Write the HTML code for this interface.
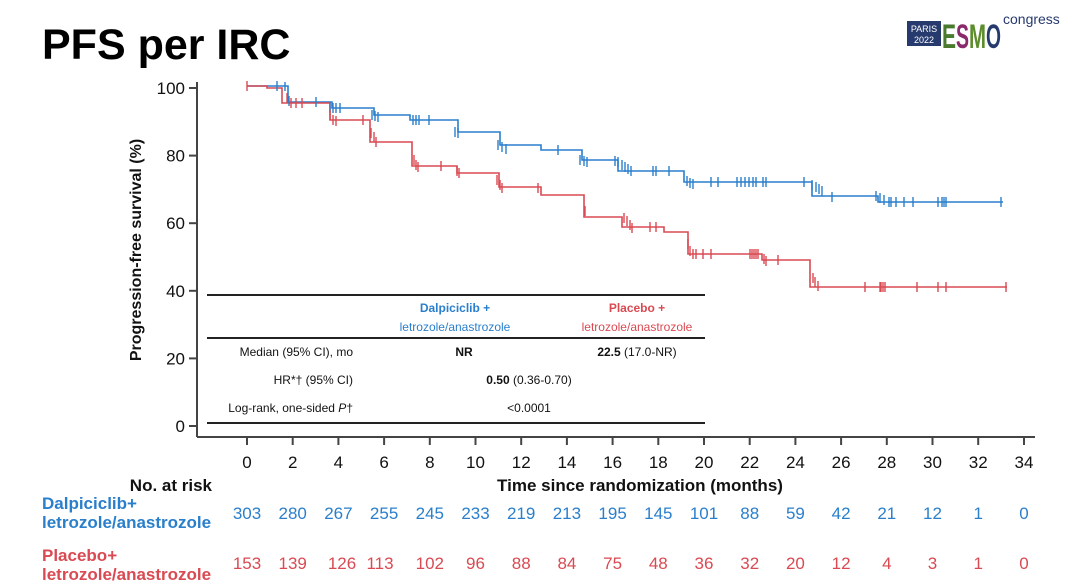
<!DOCTYPE html>
<html><head><meta charset="utf-8"><style>
html,body{margin:0;padding:0;background:#fff}
svg{display:block;font-family:"Liberation Sans",Arial,sans-serif}
</style></head><body>
<svg width="1080" height="586" viewBox="0 0 1080 586" xmlns="http://www.w3.org/2000/svg">
<text x="42" y="59" font-size="43" font-weight="bold" fill="#000">PFS per IRC</text>
<!-- logo -->
<rect x="907" y="21" width="34" height="25" fill="#263a6e"/>
<text x="924" y="32" font-size="9" fill="#fff" text-anchor="middle">PARIS</text>
<text x="924" y="43" font-size="9" fill="#fff" text-anchor="middle">2022</text>
<text x="942" y="48" font-size="34" font-weight="bold" fill="#4a7a2e" textLength="14" lengthAdjust="spacingAndGlyphs">E</text>
<text x="956" y="48" font-size="34" font-weight="bold" fill="#8a2a6a" textLength="13" lengthAdjust="spacingAndGlyphs">S</text>
<text x="969" y="48" font-size="34" font-weight="bold" fill="#5c8c2c" textLength="17" lengthAdjust="spacingAndGlyphs">M</text>
<text x="986" y="48" font-size="34" font-weight="bold" fill="#263a6e" textLength="15" lengthAdjust="spacingAndGlyphs">O</text>
<text x="1003" y="24" font-size="14" fill="#263a6e">congress</text>

<!-- y axis -->
<g stroke="#444" stroke-width="2" fill="none">
<line x1="197" y1="82" x2="197" y2="437"/>
<line x1="197" y1="437" x2="1035" y2="437"/>
<line x1="189" y1="88" x2="197" y2="88"/>
<line x1="189" y1="155.6" x2="197" y2="155.6"/>
<line x1="189" y1="223.2" x2="197" y2="223.2"/>
<line x1="189" y1="290.8" x2="197" y2="290.8"/>
<line x1="189" y1="358.4" x2="197" y2="358.4"/>
<line x1="189" y1="426" x2="197" y2="426"/>
</g>
<g font-size="17" fill="#111" text-anchor="end">
<text x="185" y="94">100</text><text x="185" y="161.6">80</text><text x="185" y="229.2">60</text>
<text x="185" y="296.8">40</text><text x="185" y="364.4">20</text><text x="185" y="432">0</text>
</g>
<text transform="translate(141,250) rotate(-90)" font-size="16" font-weight="bold" text-anchor="middle" fill="#111">Progression-free survival (%)</text>

<!-- x ticks -->
<g stroke="#444" stroke-width="2">
<line x1="247" y1="437" x2="247" y2="445"/><line x1="292.7" y1="437" x2="292.7" y2="445"/><line x1="338.4" y1="437" x2="338.4" y2="445"/><line x1="384.1" y1="437" x2="384.1" y2="445"/><line x1="429.8" y1="437" x2="429.8" y2="445"/><line x1="475.5" y1="437" x2="475.5" y2="445"/><line x1="521.2" y1="437" x2="521.2" y2="445"/><line x1="566.9" y1="437" x2="566.9" y2="445"/><line x1="612.6" y1="437" x2="612.6" y2="445"/><line x1="658.3" y1="437" x2="658.3" y2="445"/><line x1="704" y1="437" x2="704" y2="445"/><line x1="749.7" y1="437" x2="749.7" y2="445"/><line x1="795.4" y1="437" x2="795.4" y2="445"/><line x1="841.1" y1="437" x2="841.1" y2="445"/><line x1="886.8" y1="437" x2="886.8" y2="445"/><line x1="932.5" y1="437" x2="932.5" y2="445"/><line x1="978.2" y1="437" x2="978.2" y2="445"/><line x1="1024" y1="437" x2="1024" y2="445"/>
</g>
<g font-size="17" fill="#111" text-anchor="middle">
<text x="247" y="468">0</text><text x="292.7" y="468">2</text><text x="338.4" y="468">4</text><text x="384.1" y="468">6</text><text x="429.8" y="468">8</text><text x="475.5" y="468">10</text><text x="521.2" y="468">12</text><text x="566.9" y="468">14</text><text x="612.6" y="468">16</text><text x="658.3" y="468">18</text><text x="704" y="468">20</text><text x="749.7" y="468">22</text><text x="795.4" y="468">24</text><text x="841.1" y="468">26</text><text x="886.8" y="468">28</text><text x="932.5" y="468">30</text><text x="978.2" y="468">32</text><text x="1024" y="468">34</text>
</g>
<text x="640" y="491" font-size="17" font-weight="bold" text-anchor="middle" fill="#111">Time since randomization (months)</text>

<!-- curves -->
<path fill="none" stroke="#2a7fcc" stroke-width="1.6" d="M247,86 H288 V102 H332 V108 H374 V115 H410 V120 H458 V132 H500 V145 H541 V150 H582 V160 H618 V171 H684 V182 H812 V196 H878 V202 H1003"/>
<path fill="none" stroke="#d94a52" stroke-width="1.6" d="M247,86 H267 V88 H282 V103 H330 V120 H370 V142 H412 V166 H457 V173 H499 V187 H541 V195 H584 V217 H622 V227 H664 V232 H688 V254 H762 V260 H810 V287 H1007"/>
<g stroke="#2a7fcc" stroke-width="1.4">
<path d="M277,81v10 M285,82v9 M289,96v10 M316,97v10 M330,102v10 M333,103v10 M336,103v10 M340,103v10 M372,110v10 M375,111v10 M378,112v10 M413,115v10 M416,115v10 M419,115v10 M429,115v10 M455,127v10 M458,128v10 M498,140v10 M502,142v10 M506,144v10 M558,145v10 M580,155v10 M584,156v10 M587,157v10 M615,156v10 M618,157v10 M622,160v10 M625,162v10 M628,164v10 M631,166v10 M653,166v10 M656,166v10 M669,166v10 M687,176v10 M690,178v10 M693,179v10 M711,177v10 M718,177v10 M737,177v10 M741,177v10 M745,177v10 M749,177v10 M753,177v10 M756,177v10 M763,177v10 M766,177v10 M804,177v10 M812,180v10 M816,182v10 M819,184v10 M822,186v10 M832,192v10 M876,191v10 M880,193v10 M884,195v10 M889,197v10 M891,197v10 M896,197v10 M904,197v10 M913,197v10 M938,197v10 M942,197v10 M944,197v10 M946,197v10 M1001,197v10"/>
</g>
<g stroke="#d94a52" stroke-width="1.4">
<path d="M247,81v10 M287,93v10 M291,98v10 M296,98v10 M302,98v10 M330,110v10 M333,115v10 M336,116v10 M363,115v10 M371,128v10 M374,132v10 M376,137v10 M414,155v10 M416,160v10 M418,162v10 M441,161v10 M457,166v10 M459,168v10 M497,175v10 M500,180v10 M502,183v10 M538,183v10 M585,206v10 M624,213v10 M627,216v10 M630,220v10 M632,223v10 M650,222v10 M656,222v10 M688,239v10 M690,246v10 M693,249v10 M696,249v10 M703,249v10 M711,249v10 M750,249v10 M752,249v10 M754,249v10 M756,249v10 M758,249v10 M764,254v10 M766,256v10 M778,255v10 M813,273v10 M815,277v10 M818,281v10 M865,282v10 M880,282v10 M881,282v10 M883,282v10 M885,282v10 M917,282v10 M938,282v10 M946,282v10 M1006,282v10"/>
</g>

<!-- embedded table -->
<g stroke="#222" stroke-width="2">
<line x1="207" y1="295" x2="705" y2="295"/>
<line x1="207" y1="338" x2="705" y2="338"/>
<line x1="207" y1="423" x2="705" y2="423"/>
</g>
<g font-size="12" text-anchor="middle">
<text x="455" y="312" fill="#2a7fcc" font-weight="bold">Dalpiciclib +</text>
<text x="455" y="331" fill="#2a7fcc">letrozole/anastrozole</text>
<text x="637" y="312" fill="#d94a52" font-weight="bold">Placebo +</text>
<text x="637" y="331" fill="#d94a52">letrozole/anastrozole</text>
</g>
<g font-size="12" fill="#111">
<text x="353" y="356" text-anchor="end">Median (95% CI), mo</text>
<text x="353" y="384" text-anchor="end">HR*† (95% CI)</text>
<text x="353" y="412" text-anchor="end">Log-rank, one-sided <tspan font-style="italic">P</tspan>†</text>
<text x="464" y="356" text-anchor="middle" font-weight="bold">NR</text>
<text x="637" y="356" text-anchor="middle"><tspan font-weight="bold">22.5</tspan> (17.0-NR)</text>
<text x="529" y="384" text-anchor="middle"><tspan font-weight="bold">0.50</tspan> (0.36-0.70)</text>
<text x="529" y="412" text-anchor="middle">&lt;0.0001</text>
</g>

<!-- risk table -->
<text x="212" y="491" font-size="17" font-weight="bold" text-anchor="end" fill="#111">No. at risk</text>
<text x="42" y="509" font-size="17" font-weight="bold" fill="#2a7fcc">Dalpiciclib+</text>
<text x="42" y="528" font-size="17" font-weight="bold" fill="#2a7fcc">letrozole/anastrozole</text>
<text x="42" y="561" font-size="17" font-weight="bold" fill="#d94a52">Placebo+</text>
<text x="42" y="580" font-size="17" font-weight="bold" fill="#d94a52">letrozole/anastrozole</text>
<g font-size="17" fill="#2a7fcc" text-anchor="middle">
<text x="247" y="519">303</text><text x="292.7" y="519">280</text><text x="338.4" y="519">267</text><text x="384.1" y="519">255</text><text x="429.8" y="519">245</text><text x="475.5" y="519">233</text><text x="521.2" y="519">219</text><text x="566.9" y="519">213</text><text x="612.6" y="519">195</text><text x="658.3" y="519">145</text><text x="704" y="519">101</text><text x="749.7" y="519">88</text><text x="795.4" y="519">59</text><text x="841.1" y="519">42</text><text x="886.8" y="519">21</text><text x="932.5" y="519">12</text><text x="978.2" y="519">1</text><text x="1024" y="519">0</text>
</g>
<g font-size="17" fill="#d94a52" text-anchor="middle">
<text x="247" y="569">153</text><text x="292.7" y="569">139</text><text x="342" y="569">126</text><text x="380" y="569">113</text><text x="429.8" y="569">102</text><text x="475.5" y="569">96</text><text x="521.2" y="569">88</text><text x="566.9" y="569">84</text><text x="612.6" y="569">75</text><text x="658.3" y="569">48</text><text x="704" y="569">36</text><text x="749.7" y="569">32</text><text x="795.4" y="569">20</text><text x="841.1" y="569">12</text><text x="886.8" y="569">4</text><text x="932.5" y="569">3</text><text x="978.2" y="569">1</text><text x="1024" y="569">0</text>
</g>
</svg>
</body></html>
